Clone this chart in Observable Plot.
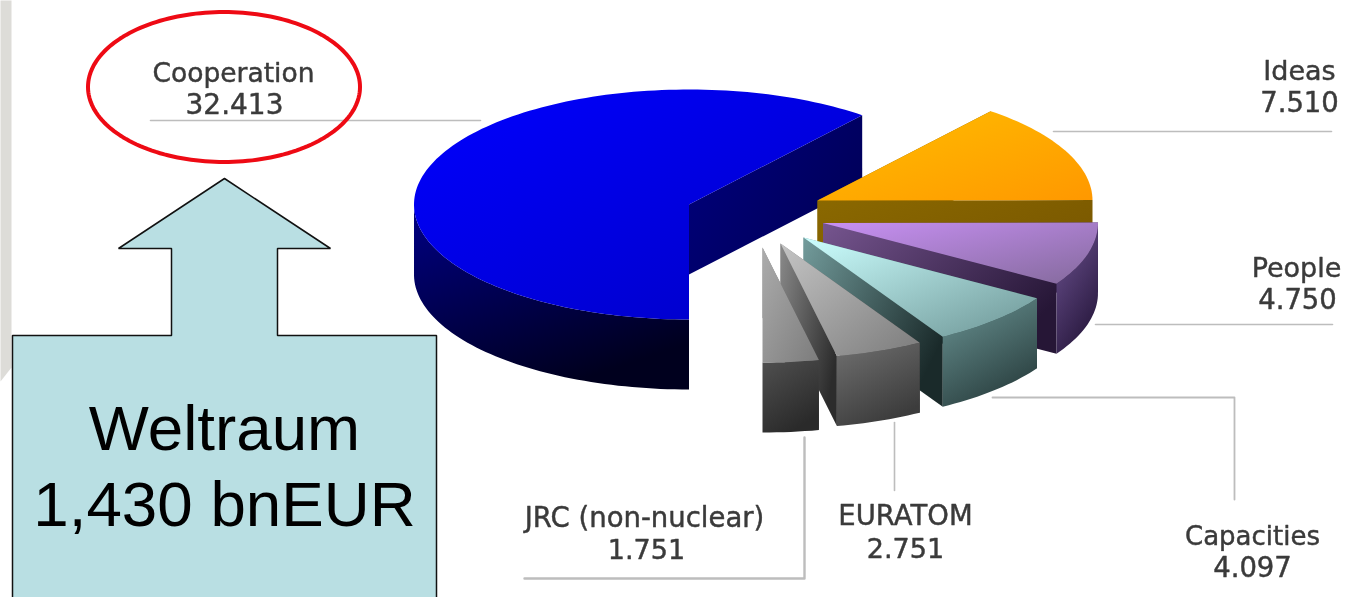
<!DOCTYPE html>
<html>
<head>
<meta charset="utf-8">
<script src="https://cdn.jsdelivr.net/npm/d3@7"></script>
<script src="https://cdn.jsdelivr.net/npm/@observablehq/plot@0.6"></script>
<style>
html,body{margin:0;padding:0;background:#fff;overflow:hidden}
svg{display:block}
.lbl{filter:blur(.6px)}
.pie{filter:blur(.5px)}
</style>
</head>
<body>
<div id="chart"></div>
<script>
// Data
const categories = ["Cooperation","Ideas","People","Capacities","EURATOM","JRC (non-nuclear)"];
const values = [32.413,7.510,4.750,4.097,2.751,1.751];

// Pie layout (exploded apex of each slice)
const apexX = [688.5,817,822.5,803,780,762];
const apexY = [204,200,222.5,237,243,247];
const rx = 275, ry = 115, depth = 70;

// Shading per slice
const topColors  = [["#0000ff","#0000c4"],["#ffbe00","#ff9800"],["#c890f4","#846a9c"],["#ccffff","#6c9494"],["#c4c4c4","#7c7c7c"],["#acacac","#7c7c7c"]];
const wallColors = [["#00007e","#000058"],["#8a6800","#7a5800"],["#76558f","#261636"],["#739c9c","#1a2a2a"],["#8a8a8a","#2c2c2c"],["#888888","#444444"]];
const rimColors  = [["#000084","#00001e"],["#8a6800","#7a5800"],["#6f5494","#2a1a40"],["#6b9595","#2c4242"],["#707070","#3c3c3c"],["#505050","#2a2a2a"]];

// Label layout, in the order of labelOrder
const labelOrder = [0,1,2,5,4,3];
const labelX = [233,1299,1296,644,905,1252];
const labelX2 = [234,1299,1297,646,905,1252];
const labelY = [73,71,268,518,516,536];
const labelY2 = [105,103,300,550,549,568];
const labelSize = [26.5,27,27,27.5,27.5,26];
const valueSize = [28,27.5,27.5,27,27,27.5];

// Leader lines
const leaders = [
  [[150,120],[480,120]],
  [[1053,131],[1331,131]],
  [[1095,324],[1332,324]],
  [[992,397],[1234,397],[1234,499]],
  [[894,422],[894,490]],
  [[804,437],[804,578],[524,578]]
];
const leaderWidth = [1.6,1.6,1.6,1.8,1.6,2.4];

// Annotation
const noteLines = ["Weltraum","1,430 bnEUR"];
const noteBaseY = [449,525];
const calloutShape = [[12,640],[12,335],[171,335],[171,248],[118,248],[224,178],[330,248],[277,248],[277,335],[436,335],[436,640],[12,640]];
const bgShape = [[0,0],[11,0],[11,367],[0,381]];

const total = d3.sum(values);
const rad = d => d * Math.PI / 180;
let cum = 0;
const slices = values.map((v,i) => {
  const a0 = 270 - cum / total * 360;
  cum += v;
  const a1 = 270 - cum / total * 360;
  return {i,a0,a1,cx:apexX[i],cy:apexY[i]};
});
const edge = (s,a,dz=0) => ({x:s.cx + rx*Math.cos(rad(a)), y:s.cy - ry*Math.sin(rad(a)) + dz});
const arcAngles = (a0,a1) => { const out=[]; const n=Math.max(2,Math.ceil((a0-a1)/1.5)); for(let k=0;k<=n;k++) out.push(a0+(a1-a0)*k/n); return out; };
const apex = (s,dz=0) => ({x:s.cx,y:s.cy+dz});

const topFace = s => [apex(s),...arcAngles(s.a0,s.a1).map(a=>edge(s,a)),apex(s)];
const wall = (s,a) => [apex(s),edge(s,a),edge(s,a,depth),apex(s,depth),apex(s)];
const rim = s => {
  const as = arcAngles(s.a0,s.a1).filter(a=>Math.sin(rad(a))<=0.0001);
  if (as.length<2) return [];
  return [...as.map(a=>edge(s,a)),...as.slice().reverse().map(a=>edge(s,a,depth))];
};

const grad = (id,[c0,c1],x2,y2) =>
  `<linearGradient id="${id}" x1="0" y1="0" x2="${x2}" y2="${y2}"><stop offset="0" stop-color="${c0}"/><stop offset="1" stop-color="${c1}"/></linearGradient>`;
const defsMark = () => {
  const g = d3.create("svg:defs");
  g.html(categories.map((_,i)=>
    grad(`top${i}`,topColors[i],1,1)+grad(`wall${i}`,wallColors[i],1,.6)+grad(`rim${i}`,rimColors[i],.5,1)
  ).join(""));
  return g.node();
};

const poly = (pts,fill) => Plot.line(pts,{x:"x",y:"y",fill,stroke:"none",className:"pie"});
const pieMarks = slices.flatMap(s => [
  poly(wall(s,s.a0),`url(#wall${s.i})`),
  poly(wall(s,s.a1),`url(#wall${s.i})`),
  poly(rim(s),`url(#rim${s.i})`),
  poly(topFace(s),`url(#top${s.i})`)
]);

const labelRows = labelOrder.map((c,k)=>({name:categories[c],val:d3.format(".3f")(values[c]),x:labelX[k],x2:labelX2[k],y:labelY[k],y2:labelY2[k],size:labelSize[k],vsize:valueSize[k]}));

const ellipsePts = d3.range(0,361,2).map(a=>({x:223.5+136*Math.cos(rad(a)),y:86.5+75*Math.sin(rad(a))}));
const tuples = pts => pts.map(([x,y])=>({x,y}));
const textStyle = {fontFamily:"DejaVu Sans",fill:"#3a3a3a",stroke:"#3a3a3a",strokeWidth:.45,className:"lbl"};

const chart = Plot.plot({
  width:1347,height:597,margin:0,
  x:{domain:[0,1347],range:[0,1347],axis:null},
  y:{domain:[0,597],range:[0,597],axis:null},
  style:{background:"#fff",overflow:"hidden"},
  marks:[
    defsMark,
    Plot.line(tuples(bgShape),{x:"x",y:"y",fill:"#dddcd8",stroke:"none"}),
    ...leaders.map((l,i)=>Plot.line(tuples(l),{x:"x",y:"y",stroke:"#bdbdbd",strokeWidth:leaderWidth[i],className:"lbl"})),
    ...pieMarks,
    Plot.text(labelRows,{x:"x",y:"y",text:"name",fontSize:"size",...textStyle}),
    Plot.text(labelRows,{x:"x2",y:"y2",text:"val",fontSize:"vsize",...textStyle}),
    Plot.line(tuples(calloutShape),{x:"x",y:"y",fill:"#b9dfe3",stroke:"#111",strokeWidth:1.5,strokeLinejoin:"miter"}),
    Plot.text(noteLines,{x:()=>224,y:(d,i)=>noteBaseY[i],text:d=>d,fontSize:63.7,fontFamily:"Liberation Sans",fill:"#000",lineAnchor:"bottom"}),
    Plot.line(ellipsePts,{x:"x",y:"y",stroke:"#ee0a14",strokeWidth:4})
  ]
});
document.getElementById("chart").append(chart);
</script>
</body>
</html>
